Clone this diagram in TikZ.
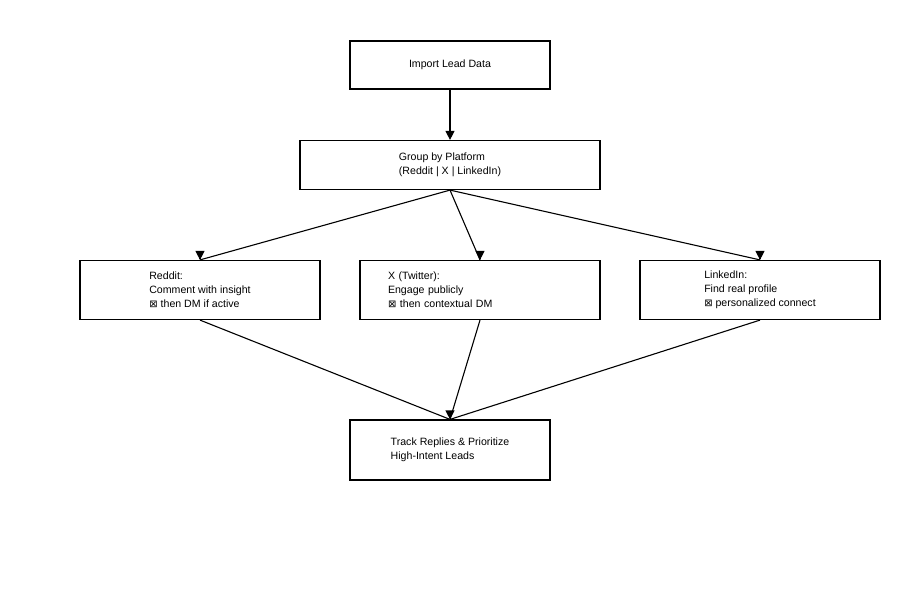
\documentclass[tikz,border=0pt]{standalone}
\usepackage{fontspec}
\setmainfont{Liberation Sans}
\newfontfamily\symfont{DejaVu Sans}
\usetikzlibrary{arrows.meta,calc}
\newcommand{\tofu}{{\symfont\fontsize{10}{14}\selectfont ⊠}}
\begin{document}
\begin{tikzpicture}
  [x=1pt,y=-1pt,
   line width=1.2pt,
   font=\fontsize{10.6}{14}\selectfont,
   stepN/.style={draw,inner sep=0pt,align=left},
   topN/.style={stepN,minimum width=200pt,minimum height=48pt},
   platN/.style={stepN,minimum width=240pt,minimum height=59pt},
   flowL/.style={line width=1.1pt},
   tipN/.style={-{Triangle[width=9pt,length=9pt]}},
  ]

 \useasboundingbox (0,0) rectangle (900,600);

 % boxes
 \node[topN] (import) at (450,65) {Import Lead Data};
 \node[stepN,minimum width=300pt,minimum height=49pt] (group) at (450,165)
   {Group by Platform\\(Reddit | X | LinkedIn)};
 \node[platN] (reddit) at (200,290)
   {Reddit:\\Comment with insight\\\tofu\ then DM if active};
 \node[platN,text width=184pt,inner xsep=28pt] (twitter) at (480,290)
   {X (Twitter):\\Engage publicly\\\tofu\ then contextual DM};
 \node[platN] (linkedin) at (760,290)
   {LinkedIn:\\Find real profile\\\tofu\ personalized connect};
 \node[topN,minimum height=60pt] (track) at (450,450)
   {Track Replies \& Prioritize\\High-Intent Leads};

 % connectors
 \draw[flowL,tipN] (import.south) -- (group.north);

 \draw[flowL] (group.south) -- (reddit.north);
 \draw[tipN] ($(reddit.north)+(0,-1)$) -- (reddit.north);
 \draw[flowL] (group.south) -- (twitter.north);
 \draw[tipN] ($(twitter.north)+(0,-1)$) -- (twitter.north);
 \draw[flowL] (group.south) -- (linkedin.north);
 \draw[tipN] ($(linkedin.north)+(0,-1)$) -- (linkedin.north);

 \draw[flowL] (reddit.south) -- (track.north);
 \draw[flowL] (twitter.south) -- (track.north);
 \draw[flowL] (linkedin.south) -- (track.north);
 \draw[tipN] ($(track.north)+(0,-1)$) -- (track.north);
\end{tikzpicture}
\end{document}
